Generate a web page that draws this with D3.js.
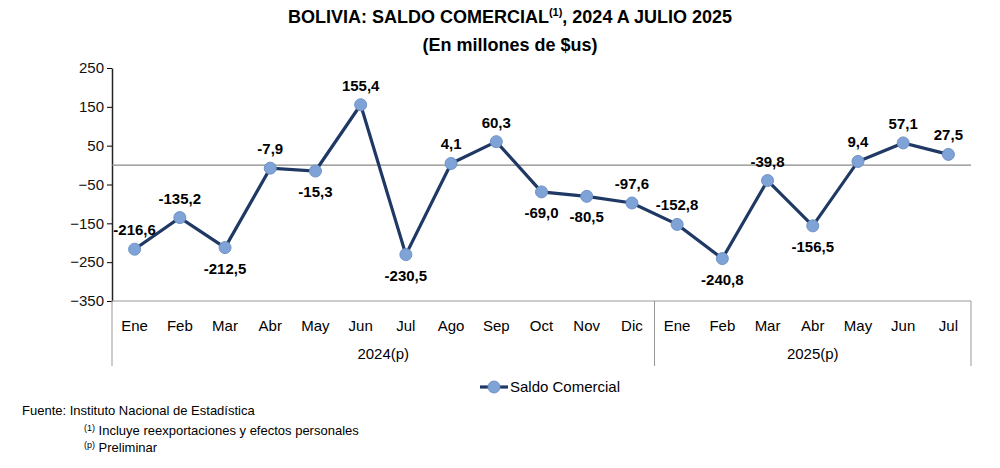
<!DOCTYPE html>
<meta charset="utf-8">
<head>
<style>
  body { margin: 0; background: #fff; font-family: Arial, "Liberation Sans", sans-serif; }
</style>
</head>
<body>
<script src="https://d3js.org/d3.v7.min.js"></script>
<script>
  var months = ["Ene","Feb","Mar","Abr","May","Jun","Jul","Ago","Sep","Oct","Nov","Dic","Ene","Feb","Mar","Abr","May","Jun","Jul"];
  var values = [-216.6,-135.2,-212.5,-7.9,-15.3,155.4,-230.5,4.1,60.3,-69.0,-80.5,-97.6,-152.8,-240.8,-39.8,-156.5,9.4,57.1,27.5];
  // 1 = label above, 0 = below
  var labelAbove = [1,1,0,1,0,1,0,1,1,0,0,1,1,0,1,0,1,1,1];
  var years = [{name: "2024(p)", from: 0, to: 12}, {name: "2025(p)", from: 12, to: 19}];
  var yTicks = [250,150,50,-50,-150,-250,-350];

  var width = 1000, height = 468;
  var pLeft = 112, pRight = 971, pTop = 68, pBottom = 301;

  var svg = d3.select("body").append("svg")
    .attr("width", width).attr("height", height);

  var x = d3.scaleBand().domain(d3.range(months.length)).range([pLeft, pRight]);
  var y = d3.scaleLinear().domain([-350, 250]).range([pBottom, pTop]);
  var fmt = function (v) { return v.toFixed(1).replace(".", ","); };
  var cx = function (d, i) { return x(i) + x.bandwidth() / 2; };

  svg.append("text").attr("x", 510).attr("y", 23).attr("text-anchor", "middle")
    .style("font-weight", "bold").style("font-size", "18px")
    .html('BOLIVIA: SALDO COMERCIAL<tspan dy="-7" font-size="11px">(1)</tspan><tspan dy="7">, 2024 A JULIO 2025</tspan>');
  svg.append("text").attr("x", 510).attr("y", 51).attr("text-anchor", "middle")
    .style("font-weight", "bold").style("font-size", "18px").text("(En millones de $us)");

  // y axis
  var yAxis = svg.append("g").attr("transform", "translate(" + pLeft + ",0)")
    .call(d3.axisLeft(y).tickValues(yTicks).tickSize(5).tickSizeOuter(0));
  yAxis.select(".domain").attr("stroke", "#222").attr("stroke-width", 1.5);
  yAxis.selectAll("text").style("font-size", "15px").attr("fill", "#111");

  // zero line
  svg.append("line").attr("x1", pLeft).attr("x2", pRight)
    .attr("y1", y(0)).attr("y2", y(0)).attr("stroke", "#888").attr("stroke-width", 1.2);

  // x categories
  svg.append("line").attr("x1", pLeft).attr("x2", pRight).attr("y1", pBottom).attr("y2", pBottom)
    .attr("stroke", "#999");
  svg.selectAll(".mon").data(months).enter().append("text")
    .attr("x", cx).attr("y", 331).attr("text-anchor", "middle").style("font-size", "15px")
    .text(function (d) { return d; });
  var seps = [0, 12, 19];
  svg.selectAll(".sep").data(seps).enter().append("line")
    .attr("x1", function (d) { return d < 19 ? x(d) : pRight; })
    .attr("x2", function (d) { return d < 19 ? x(d) : pRight; })
    .attr("y1", pBottom).attr("y2", 366).attr("stroke", "#999");
  svg.selectAll(".yr").data(years).enter().append("text")
    .attr("x", function (d) { return (x(d.from) + (d.to < 19 ? x(d.to) : pRight)) / 2; })
    .attr("y", 359).attr("text-anchor", "middle").style("font-size", "15px").text(function (d) { return d.name; });

  // line
  var line = d3.line().x(cx).y(function (d) { return y(d); });
  svg.append("path").datum(values).attr("d", line)
    .attr("fill", "none").attr("stroke", "#1f3864").attr("stroke-width", 3.2);
  svg.selectAll(".pt").data(values).enter().append("circle")
    .attr("cx", cx).attr("cy", function (d) { return y(d); })
    .attr("r", 6).attr("fill", "#7fa3d6").attr("stroke", "#6f93c6").attr("stroke-width", 1);
  svg.selectAll(".lbl").data(values).enter().append("text")
    .attr("x", cx)
    .attr("y", function (d, i) { return y(d) + (labelAbove[i] ? -14 : 26); })
    .attr("text-anchor", "middle").style("font-weight", "bold").style("font-size", "15px")
    .text(function (d) { return fmt(d); });

  // legend
  var lg = svg.append("g").attr("transform", "translate(480,387)");
  lg.append("line").attr("x1", 0).attr("x2", 28).attr("stroke", "#1f3864").attr("stroke-width", 3.2);
  lg.append("circle").attr("cx", 14).attr("r", 6).attr("fill", "#7fa3d6").attr("stroke", "#6f93c6");
  lg.append("text").attr("x", 30).attr("y", 5).style("font-size", "15px").text("Saldo Comercial");

  // footnotes
  svg.append("text").attr("x", 22).attr("y", 415).style("font-size", "13px").text("Fuente: Instituto Nacional de Estadística");
  svg.append("text").attr("x", 84).attr("y", 435).style("font-size", "13px")
    .html('<tspan dy="-4" font-size="9px">(1)</tspan><tspan dy="4"> Incluye reexportaciones y efectos personales</tspan>');
  svg.append("text").attr("x", 84).attr("y", 452).style("font-size", "13px")
    .html('<tspan dy="-4" font-size="9px">(p)</tspan><tspan dy="4"> Preliminar</tspan>');
</script>
</body>
</html>
